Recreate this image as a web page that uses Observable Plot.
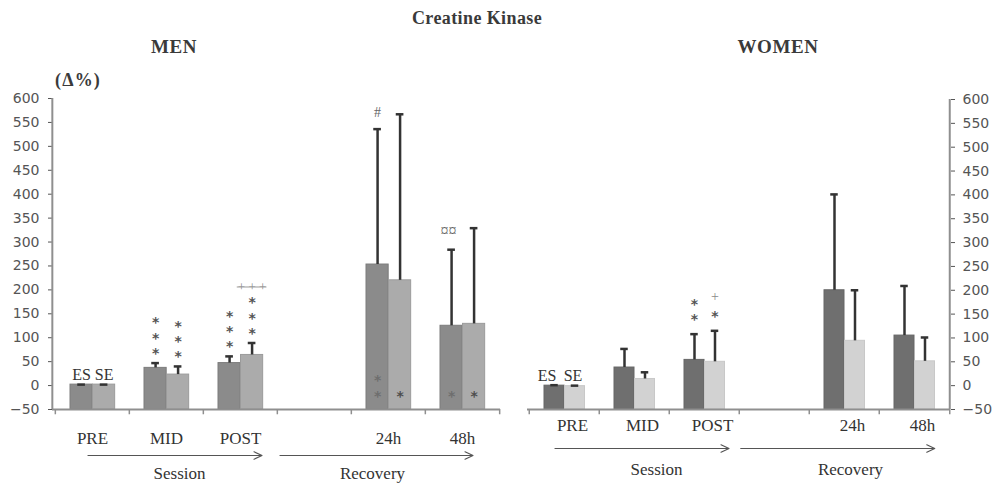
<!DOCTYPE html>
<html>
<head>
<meta charset="utf-8">
<script src="https://cdn.jsdelivr.net/npm/d3@7"></script>
<script src="https://cdn.jsdelivr.net/npm/@observablehq/plot@0.6"></script>
<style>
  body { margin: 0; background: #fff; }
  #chart { position: relative; width: 995px; height: 490px; font-family: "Liberation Serif", serif; color: #3a3a3a; overflow: hidden; }
  #chart svg { position: absolute; top: 0; }
  .t { position: absolute; font-weight: bold; white-space: nowrap; transform: translate(-50%, -50%); }
</style>
</head>
<body>
<div id="chart">
  <div class="t" style="left:477px;top:18px;font-size:18px;letter-spacing:0.4px">Creatine Kinase</div>
  <div class="t" style="left:174px;top:47px;font-size:19px;letter-spacing:0.6px">MEN</div>
  <div class="t" style="left:778px;top:47px;font-size:19px;letter-spacing:0.6px">WOMEN</div>
  <div class="t" style="left:78px;top:80px;font-size:18px;letter-spacing:1.2px">(Δ%)</div>
</div>
<script>
// Time points; the empty slot separates the session from the recovery days
const slots = ["PRE", "MID", "POST", "", "24h", "48h"];
const times = ["PRE", "MID", "POST", "24h", "48h"];
const yTicks = [-50, 0, 50, 100, 150, 200, 250, 300, 350, 400, 450, 500, 550, 600];
const protocols = ["ES", "SE"];

// Change in creatine kinase (%): mean and upper SD for the ES and SE protocols
const menES = [2, 37, 47, 253, 125];
const menESsd = [0, 10, 14, 283, 159];
const menSE = [2, 23, 64, 220, 129];
const menSEsd = [0, 17, 25, 347, 200];

const womenES = [0, 38, 54, 200, 105];
const womenESsd = [1, 39, 54, 201, 104];
const womenSE = [-1, 14, 50, 94, 51];
const womenSEsd = [1, 14, 65, 106, 50];

// Significance symbols: [time, protocol, symbol]
const menStars = [["MID", "ES", "*\n*\n*"], ["MID", "SE", "*\n*\n*"], ["POST", "ES", "*\n*\n*"], ["POST", "SE", "*\n*\n*"]];
const menInBar = [["24h", "ES", "*\n*"], ["24h", "SE", "*"], ["48h", "ES", "*"], ["48h", "SE", "*"]];
const menPlus = [["POST", "SE", "+ + +"]];
const menHash = [["24h", "ES", "#"]];
const menCurrency = [["48h", "ES", "¤¤"]];
const womenStars = [["POST", "ES", "*\n*"], ["POST", "SE", "*"]];
const womenPlus = [["POST", "SE", "+"]];

// Phases shown under the time axis
const phases = [
  {label: "Session", from: "PRE", to: "POST", at: "MID"},
  {label: "Recovery", from: "", to: "48h", at: "24h"}
];

const serif = "Liberation Serif";
const sans = "DejaVu Sans";
const starStyle = {fontFamily: sans, fontWeight: "bold", fontSize: 14, lineHeight: 1.1, lineAnchor: "bottom"};

function panel(o, extra) {
  const rows = times.flatMap((t, i) => [
    {time: t, series: "ES", value: o.es[i], sd: o.esSd[i]},
    {time: t, series: "SE", value: o.se[i], sd: o.seSd[i]}
  ]);
  const find = (t, s) => rows.find((r) => r.time === t && r.series === s);
  const ann = (list) => list.map(([t, s, text]) => ({...find(t, s), text}));
  const top = (d) => d.value + d.sd;

  const bw = (o.width - o.marginLeft - o.marginRight - o.inset) / slots.length;
  const off = o.offset, w = o.barWidth;
  const inL = {ES: off, SE: off + w};
  const inR = {ES: bw - off - w, SE: bw - off - 2 * w};
  const cx = {ES: off + w / 2 - bw / 2, SE: off + 1.5 * w - bw / 2};
  const cap = 4;

  const marks = [];
  for (const s of protocols) {
    const data = rows.filter((d) => d.series === s);
    marks.push(
      Plot.barY(data, {x: "time", y1: -50, y2: "value", fill: o.fill[s], stroke: o.edge[s], strokeWidth: 1, insetLeft: inL[s], insetRight: inR[s]}),
      Plot.ruleX(data, {x: "time", y1: "value", y2: top, dx: cx[s], stroke: "#333", strokeWidth: 2.5}),
      Plot.tickY(data, {x: "time", y: top, insetLeft: bw / 2 + cx[s] - cap, insetRight: bw / 2 - cx[s] - cap, stroke: "#333", strokeWidth: 2.5})
    );
  }

  // axis lines and ticks at the slot boundaries
  const edgeSlot = o.axis === "left" ? slots[0] : slots[slots.length - 1];
  const edgeDx = o.axis === "left" ? -bw / 2 - o.inset - 1 : bw / 2;
  marks.push(
    Plot.ruleY([-50], {stroke: "#8f8f8f", strokeWidth: 2}),
    Plot.ruleX([edgeSlot], {x: (d) => d, y1: -50, y2: 600, dx: edgeDx, stroke: "#8f8f8f", strokeWidth: 2}),
    Plot.ruleX(slots, {x: (d) => d, y1: -50, y2: -61, dx: -bw / 2, stroke: "#8f8f8f", strokeWidth: 1.5}),
    Plot.ruleX([slots[slots.length - 1]], {x: (d) => d, y1: -50, y2: -61, dx: bw / 2, stroke: "#8f8f8f", strokeWidth: 1.5})
  );

  // time point labels, phase arrows and phase names
  marks.push(
    Plot.text(times, {x: (d) => d, y: -50, dy: o.labelDy, dx: o.labelDx, text: (d) => d, fontFamily: serif, fontSize: 17, fill: "#333"})
  );
  phases.forEach((g, i) => {
    marks.push(
      Plot.arrow([g], {x1: "from", x2: "to", y1: -50, y2: -50, dy: o.arrowDy, insetStart: o.arrowIn[i][0], insetEnd: o.arrowIn[i][1], stroke: "#555", strokeWidth: 1.2, headLength: 11, headAngle: 50}),
      Plot.text([g], {x: "at", y: -50, text: "label", dx: o.phaseDx[i], dy: o.phaseDy, fontFamily: serif, fontSize: 17, fill: "#333"})
    );
  });

  // ES / SE labels above the PRE bars
  for (const s of protocols) {
    marks.push(Plot.text(rows.filter((d) => d.time === "PRE" && d.series === s), {x: "time", y: "value", dx: cx[s] + o.peDx[s], dy: -5, text: "series", fontFamily: serif, fontSize: 16, fill: "#333", lineAnchor: "bottom"}));
  }

  marks.push(...extra({ann, top, cx, bw}));

  return Plot.plot({
    width: o.width,
    height: 490,
    marginTop: o.marginTop,
    marginBottom: 490 - 409,
    marginLeft: o.marginLeft,
    marginRight: o.marginRight,
    style: {fontFamily: sans, fontSize: "14px", color: "#555", background: "transparent", overflow: "visible"},
    x: {domain: slots, padding: 0, insetLeft: o.inset, axis: null},
    y: {domain: [-50, 600], ticks: yTicks, axis: o.axis, tickSize: 4, tickPadding: o.tickPadding, label: null},
    marks
  });
}

const men = panel({
  width: 500, marginLeft: 52, marginRight: 0, marginTop: 98, inset: 2, axis: "left", tickPadding: 9,
  offset: 15, barWidth: 22.5,
  es: menES, esSd: menESsd, se: menSE, seSd: menSEsd,
  fill: {ES: "#8b8b8b", SE: "#ababab"}, edge: {ES: "#7c7c7c", SE: "#9b9b9b"},
  labelDy: 29, labelDx: 0, arrowDy: 46, phaseDy: 64, phaseDx: [13, -16],
  arrowIn: [[-4.5, -21.5], [-34.5, -10.5]], peDx: {ES: 0, SE: 0}
}, (p) => [
  ...protocols.map((s) => Plot.text(p.ann(menStars).filter((d) => d.series === s), {x: "time", y: p.top, text: "text", dx: p.cx[s], dy: -5, fill: "#555", ...starStyle})),
  ...protocols.map((s) => Plot.text(p.ann(menInBar).filter((d) => d.series === s), {x: "time", y: -50, text: "text", dx: p.cx[s], dy: -9, fill: s === "ES" ? "#6e6e6e" : "#4e4e4e", ...starStyle})),
  Plot.text(p.ann(menPlus), {x: "time", y: p.top, text: "text", dx: p.cx.SE, dy: -52, fontFamily: serif, fontSize: 13, fill: "#8a8a8a", lineAnchor: "bottom"}),
  Plot.tickY(p.ann(menPlus), {x: "time", y: p.top, dy: -56, insetLeft: p.bw / 2 + p.cx.SE - 15, insetRight: p.bw / 2 - p.cx.SE - 15, stroke: "#9a9a9a", strokeWidth: 1}),
  Plot.text(p.ann(menHash), {x: "time", y: p.top, text: "text", dx: p.cx.ES, dy: -12, fontFamily: serif, fontSize: 14, fill: "#666", lineAnchor: "bottom"}),
  Plot.text(p.ann(menCurrency), {x: "time", y: p.top, text: "text", dx: p.cx.ES - 3, dy: -14, fontFamily: serif, fontSize: 16, fill: "#666", lineAnchor: "bottom"})
]);

const women = panel({
  width: 495, marginLeft: 27, marginRight: 45, marginTop: 99, inset: 0, axis: "right", tickPadding: 8,
  offset: 15, barWidth: 20.5,
  es: womenES, esSd: womenESsd, se: womenSE, seSd: womenSEsd,
  fill: {ES: "#6f6f6f", SE: "#d2d2d2"}, edge: {ES: "#666", SE: "#c8c8c8"},
  labelDy: 16, labelDx: 8, arrowDy: 39, phaseDy: 60, phaseDx: [22, 6],
  arrowIn: [[-9.5, -24.5], [-33.75, -20.25]], peDx: {ES: -7.5, SE: -2}
}, (p) => [
  ...protocols.map((s) => Plot.text(p.ann(womenStars).filter((d) => d.series === s), {x: "time", y: p.top, text: "text", dx: p.cx[s], dy: -10, fill: "#555", ...starStyle})),
  Plot.text(p.ann(womenPlus), {x: "time", y: p.top, text: "text", dx: p.cx.SE, dy: -30, fontFamily: serif, fontSize: 14, fill: "#8a8a8a", lineAnchor: "bottom"})
]);

men.style.left = "0px";
women.style.left = "500px";
document.getElementById("chart").append(men, women);
</script>
</body>
</html>
